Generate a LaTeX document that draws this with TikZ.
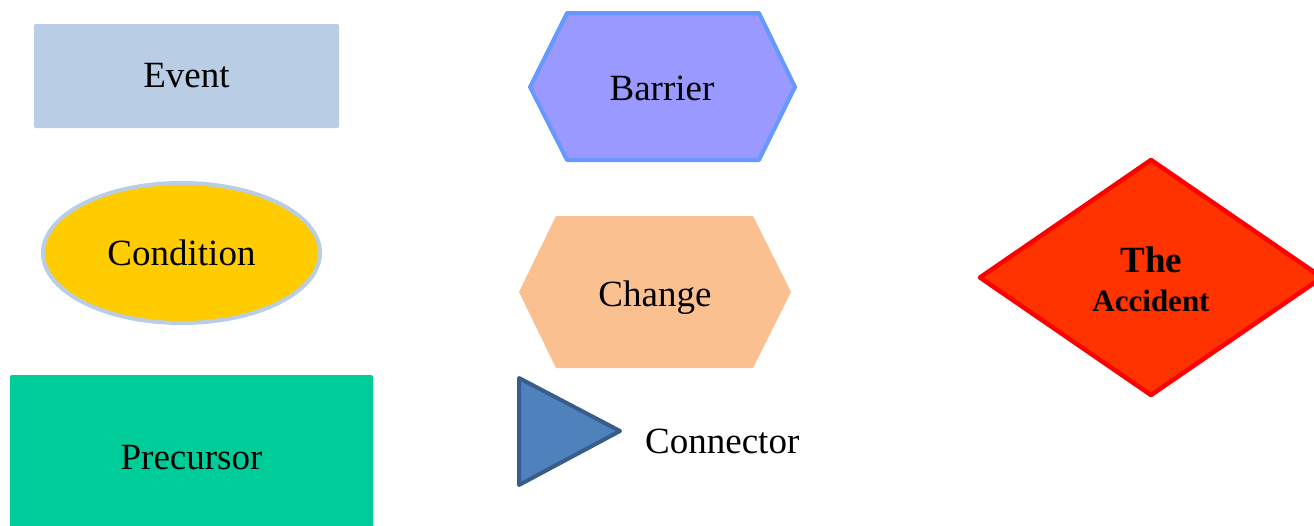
\documentclass[tikz,border=0pt]{standalone}
\usepackage{fontspec}
\setmainfont{Liberation Serif}
\usetikzlibrary{shapes.geometric}

\definecolor{eventblue}{HTML}{B9CDE5}
\definecolor{barrierfill}{HTML}{9999FF}
\definecolor{barrierline}{HTML}{6699FF}
\definecolor{condyellow}{HTML}{FFCC00}
\definecolor{changeorange}{HTML}{FAC090}
\definecolor{precgreen}{HTML}{00CC99}
\definecolor{connfill}{HTML}{4F81BD}
\definecolor{connline}{HTML}{385D8A}
\definecolor{accfill}{HTML}{FF3300}
\definecolor{accline}{HTML}{FF0000}

\begin{document}
\begin{tikzpicture}[x=1pt,y=-1pt,
  lbl/.style={inner sep=0pt,font=\fontsize{37}{40}\selectfont}]
\useasboundingbox (0,0) rectangle (1314,525);
\clip (0,0) rectangle (1314,525);

% left column
\node[rectangle,fill=eventblue,rounded corners=2pt,minimum width=305pt,minimum height=104pt,lbl] (event) at (186.5,76) {Event};
\node[ellipse,draw=eventblue,line width=4pt,fill=condyellow,minimum width=277pt,minimum height=140pt,lbl] (condition) at (181.5,253) {Condition};
\node[rectangle,fill=precgreen,rounded corners=2pt,minimum width=363pt,minimum height=166pt,lbl] (precursor) at (191.5,458) {Precursor};

% middle column
\draw[fill=barrierfill,draw=barrierline,line width=4pt,line join=round] (530,87) -- (567,13) -- (759,13) -- (795,87) -- (759,160) -- (567,160) -- cycle;
\node[lbl,anchor=base] (barrier) at (662,100) {Barrier};
\fill[changeorange] (519,292) -- (556,216) -- (753,216) -- (791,292) -- (753,368) -- (556,368) -- cycle;
\node[lbl,anchor=base] (change) at (655,306) {Change};
\draw[fill=connfill,draw=connline,line width=4pt,line join=round] (519,378) -- (620,431) -- (519,485) -- cycle;
\node[lbl,anchor=base west] (connector) at (645,453) {Connector};

% the accident
\draw[fill=accfill,draw=accline,line width=4.5pt,line join=round] (980,277.5) -- (1151,160) -- (1322,277.5) -- (1151,395) -- cycle;
\node[inner sep=0pt,anchor=base,font=\fontsize{37}{40}\selectfont\bfseries] (the) at (1151.5,272.5) {The};
\node[inner sep=0pt,anchor=base,font=\fontsize{31}{34}\selectfont\bfseries] (accident) at (1151,311.5) {Accident};
\end{tikzpicture}
\end{document}
